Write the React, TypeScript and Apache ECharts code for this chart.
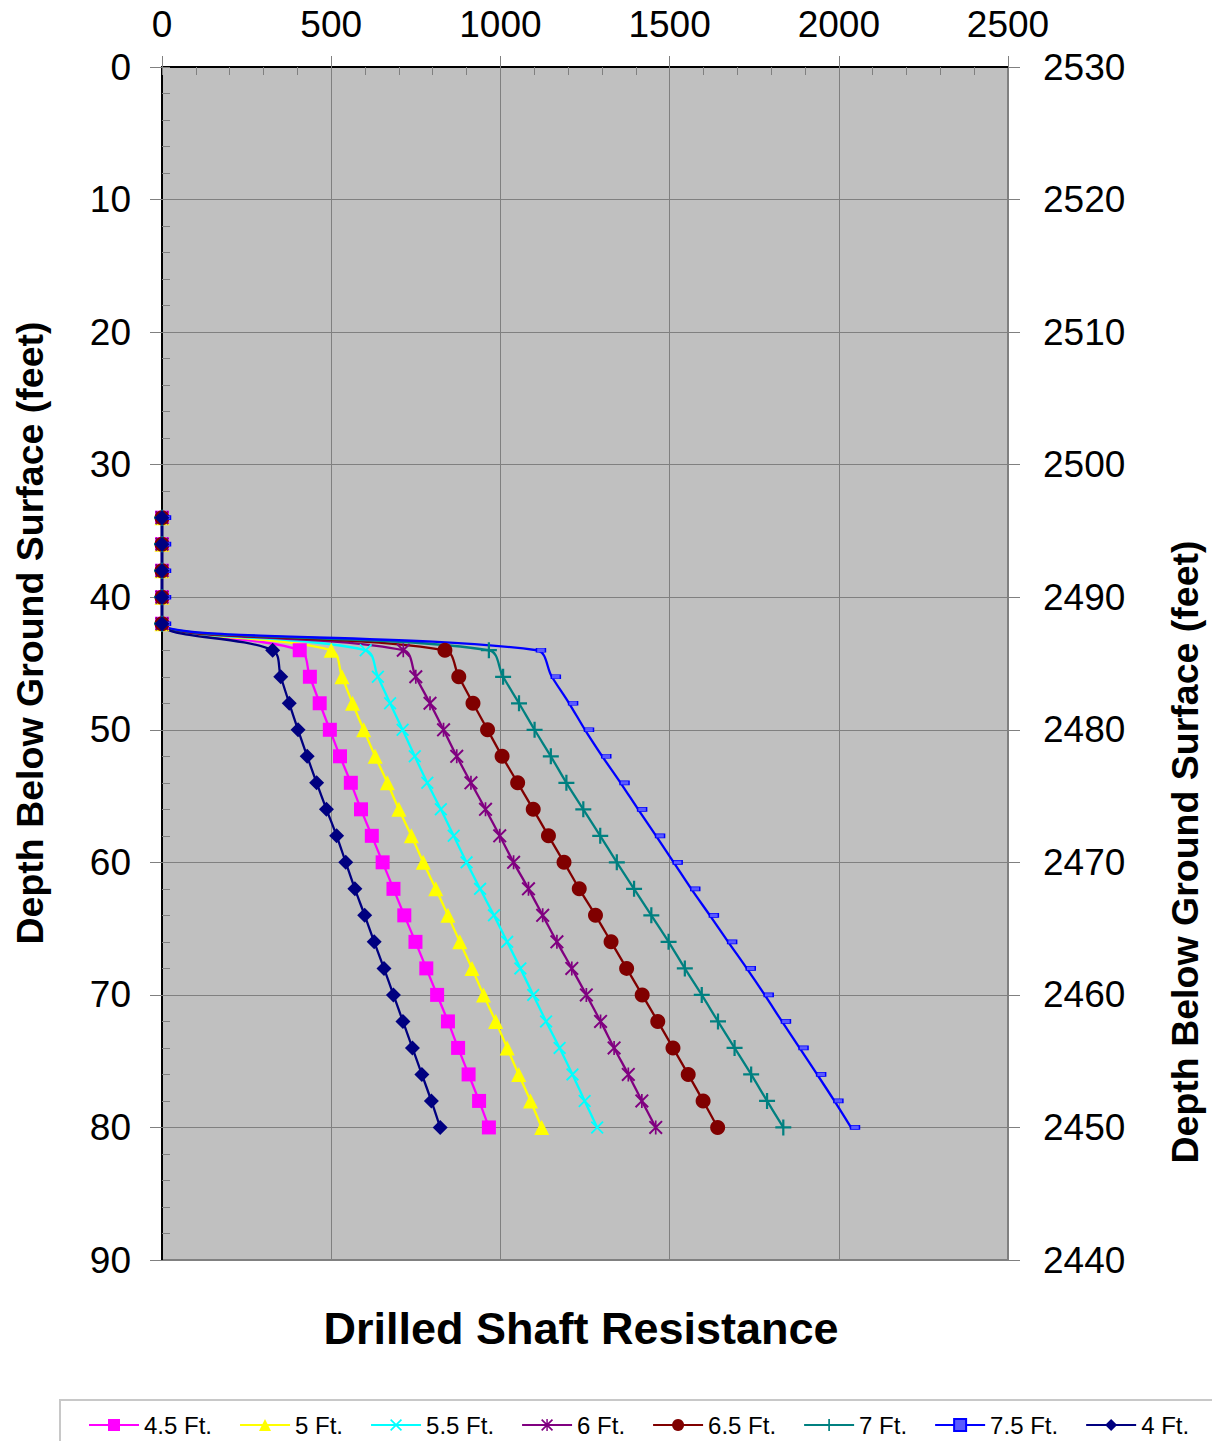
import React, { useEffect, useRef } from 'react';
import * as echarts from 'echarts';

const FONT = '"Liberation Sans", Arial, Helvetica, sans-serif';

const depths = [34, 36, 38, 40, 42, 44, 46, 48, 50, 52, 54, 56, 58, 60, 62, 64, 66, 68, 70, 72, 74, 76, 78, 80];

const ft4_5 = [0, 0, 0, 0, 0, 407, 437, 466, 496, 526, 558, 588, 620, 652, 684, 716, 749, 781, 813, 845, 875, 906, 937, 966];
const ft5 = [0, 0, 0, 0, 0, 500, 532, 563, 596, 630, 666, 700, 737, 772, 809, 845, 880, 916, 950, 986, 1020, 1054, 1089, 1122];
const ft5_5 = [0, 0, 0, 0, 0, 602, 638, 674, 711, 747, 784, 824, 862, 900, 940, 981, 1020, 1059, 1097, 1135, 1175, 1213, 1249, 1286];
const ft6 = [0, 0, 0, 0, 0, 713, 750, 792, 832, 871, 913, 956, 998, 1039, 1083, 1125, 1167, 1211, 1254, 1296, 1336, 1378, 1418, 1459];
const ft6_5 = [0, 0, 0, 0, 0, 836, 877, 919, 962, 1005, 1051, 1097, 1142, 1188, 1233, 1281, 1327, 1373, 1419, 1465, 1510, 1555, 1599, 1642];
const ft7 = [0, 0, 0, 0, 0, 966, 1008, 1055, 1101, 1149, 1195, 1245, 1295, 1344, 1395, 1446, 1497, 1545, 1595, 1643, 1692, 1741, 1788, 1836];
const ft7_5 = [0, 0, 0, 0, 0, 1108, 1152, 1203, 1250, 1301, 1355, 1407, 1460, 1512, 1564, 1619, 1673, 1728, 1781, 1832, 1884, 1936, 1987, 2036];
const ft4 = [0, 0, 0, 0, 0, 327, 351, 376, 402, 429, 457, 486, 516, 543, 570, 599, 627, 656, 684, 712, 740, 768, 796, 822];

const seriesNames = ['4.5 Ft.', '5 Ft.', '5.5 Ft.', '6 Ft.', '6.5 Ft.', '7 Ft.', '7.5 Ft.', '4 Ft.'];
const seriesValues = [ft4_5, ft5, ft5_5, ft6, ft6_5, ft7, ft7_5, ft4];
const seriesColors = ['#ff00ff', '#ffff00', '#00ffff', '#800080', '#800000', '#008080', '#0000ff', '#000080'];

const xTicks = [0, 500, 1000, 1500, 2000, 2500];
const depthTicks = [0, 10, 20, 30, 40, 50, 60, 70, 80, 90];
const elevTicks = [2440, 2450, 2460, 2470, 2480, 2490, 2500, 2510, 2520, 2530];

const X_PATH = 'path://M0,1 L1,0 L5,4 L9,0 L10,1 L6,5 L10,9 L9,10 L5,6 L1,10 L0,9 L4,5 Z';
const AST_PATH = 'path://M0,1 L1,0 L5,4 L9,0 L10,1 L6,5 L10,9 L9,10 L5,6 L1,10 L0,9 L4,5 Z M4.4,0 L5.6,0 L5.6,10 L4.4,10 Z';
const PLUS_PATH = 'path://M4.3,0 L5.7,0 L5.7,4.3 L10,4.3 L10,5.7 L5.7,5.7 L5.7,10 L4.3,10 L4.3,5.7 L0,5.7 L0,4.3 L4.3,4.3 Z';

const symbols: any[] = ['rect', 'triangle', X_PATH, AST_PATH, 'circle', PLUS_PATH, 'rect', 'diamond'];
const symbolSizes: any[] = [14, 15, 13, 14, 15, 16, [9, 4], 15];

const plain = (v: number) => String(v);

export default function App() {
  const ref = useRef<HTMLDivElement>(null);
  useEffect(() => {
    if (!ref.current) return;
    const chart = echarts.init(ref.current, undefined, { renderer: 'svg' });
    const series = seriesNames.map((name, k) => ({
      name,
      type: 'line',
      xAxisIndex: 0,
      yAxisIndex: 0,
      data: seriesValues[k].map((v, i) => [v, depths[i]]),
      smooth: 0.35,
      showSymbol: true,
      symbol: symbols[k],
      symbolSize: symbolSizes[k],
      symbolOffset: k === 6 ? [4, 0] : [0, 0],
      lineStyle: { color: seriesColors[k], width: 2.3 },
      itemStyle: k === 6
        ? { color: '#5a5aff', borderColor: '#0000ff', borderWidth: 1 }
        : { color: seriesColors[k], borderWidth: 0 },
      emphasis: { disabled: true },
    }));

    const option: any = {
      animation: false,
      backgroundColor: '#ffffff',
      textStyle: { fontFamily: FONT },
      grid: {
        left: 162, top: 67, width: 846, height: 1193,
        show: true, backgroundColor: '#c0c0c0', borderColor: '#808080', borderWidth: 2,
      },
      xAxis: [
        {
          type: 'value', position: 'top', min: xTicks[0], max: xTicks[xTicks.length - 1], interval: 500,
          axisLine: { show: true, onZero: false, lineStyle: { color: '#000', width: 2 } },
          axisTick: { show: true, inside: false, length: 11, lineStyle: { color: '#808080', width: 1 } },
          axisLabel: { show: true, margin: 24, fontSize: 37, color: '#000', fontFamily: FONT, formatter: plain },
          splitLine: { show: true, lineStyle: { color: '#808080', width: 1 } },
        },
        {
          type: 'value', position: 'top', min: xTicks[0], max: xTicks[xTicks.length - 1], interval: 100,
          axisLine: { show: false },
          axisTick: { show: true, inside: true, length: 8, lineStyle: { color: '#808080', width: 1 } },
          axisLabel: { show: false },
          splitLine: { show: false },
        },
      ],
      yAxis: [
        {
          type: 'value', position: 'left', inverse: true, min: depthTicks[0], max: depthTicks[depthTicks.length - 1], interval: 10,
          axisLine: { show: true, onZero: false, lineStyle: { color: '#000', width: 2 } },
          axisTick: { show: true, inside: false, length: 12, lineStyle: { color: '#808080', width: 1 } },
          axisLabel: { show: true, margin: 31, fontSize: 37, color: '#000', fontFamily: FONT, formatter: plain },
          splitLine: { show: true, lineStyle: { color: '#808080', width: 1 } },
        },
        {
          type: 'value', position: 'left', inverse: true, min: depthTicks[0], max: depthTicks[depthTicks.length - 1], interval: 2,
          axisLine: { show: false },
          axisTick: { show: true, inside: true, length: 8, lineStyle: { color: '#808080', width: 1 } },
          axisLabel: { show: false },
          splitLine: { show: false },
        },
        {
          type: 'value', position: 'right', min: elevTicks[0], max: elevTicks[elevTicks.length - 1], interval: 10,
          axisLine: { show: true, onZero: false, lineStyle: { color: '#808080', width: 2 } },
          axisTick: { show: true, inside: false, length: 12, lineStyle: { color: '#808080', width: 1 } },
          axisLabel: { show: true, margin: 35, fontSize: 37, color: '#000', fontFamily: FONT, formatter: plain },
          splitLine: { show: false },
        },
      ],
      legend: {
        left: 60, top: 1400, width: 1180,
        padding: [13, 40, 13, 28],
        itemWidth: 50, itemHeight: 15, itemGap: 27,
        borderColor: '#c8c8c8', borderWidth: 2, backgroundColor: '#ffffff',
        textStyle: { fontSize: 24, color: '#000', fontFamily: FONT },
        data: seriesNames,
      },
      graphic: [
        {
          type: 'text', x: 30, y: 633, rotation: Math.PI / 2,
          style: {
            text: 'Depth Below Ground Surface (feet)', fill: '#000',
            font: `bold 37.5px ${FONT}`, align: 'center', verticalAlign: 'middle',
            textAlign: 'center', textVerticalAlign: 'middle',
          },
        },
        {
          type: 'text', x: 1185, y: 852, rotation: Math.PI / 2,
          style: {
            text: 'Depth Below Ground Surface (feet)', fill: '#000',
            font: `bold 37.5px ${FONT}`, align: 'center', verticalAlign: 'middle',
            textAlign: 'center', textVerticalAlign: 'middle',
          },
        },
        {
          type: 'text', x: 581, y: 1328,
          style: {
            text: 'Drilled Shaft Resistance', fill: '#000',
            font: `bold 45px ${FONT}`, align: 'center', verticalAlign: 'middle',
            textAlign: 'center', textVerticalAlign: 'middle',
          },
        },
      ],
      series,
    };
    chart.setOption(option);
    return () => chart.dispose();
  }, []);

  return (
    <div
      ref={ref}
      style={{ position: 'absolute', left: 0, top: 0, width: 1212, height: 1441, background: '#fff' }}
    />
  );
}
